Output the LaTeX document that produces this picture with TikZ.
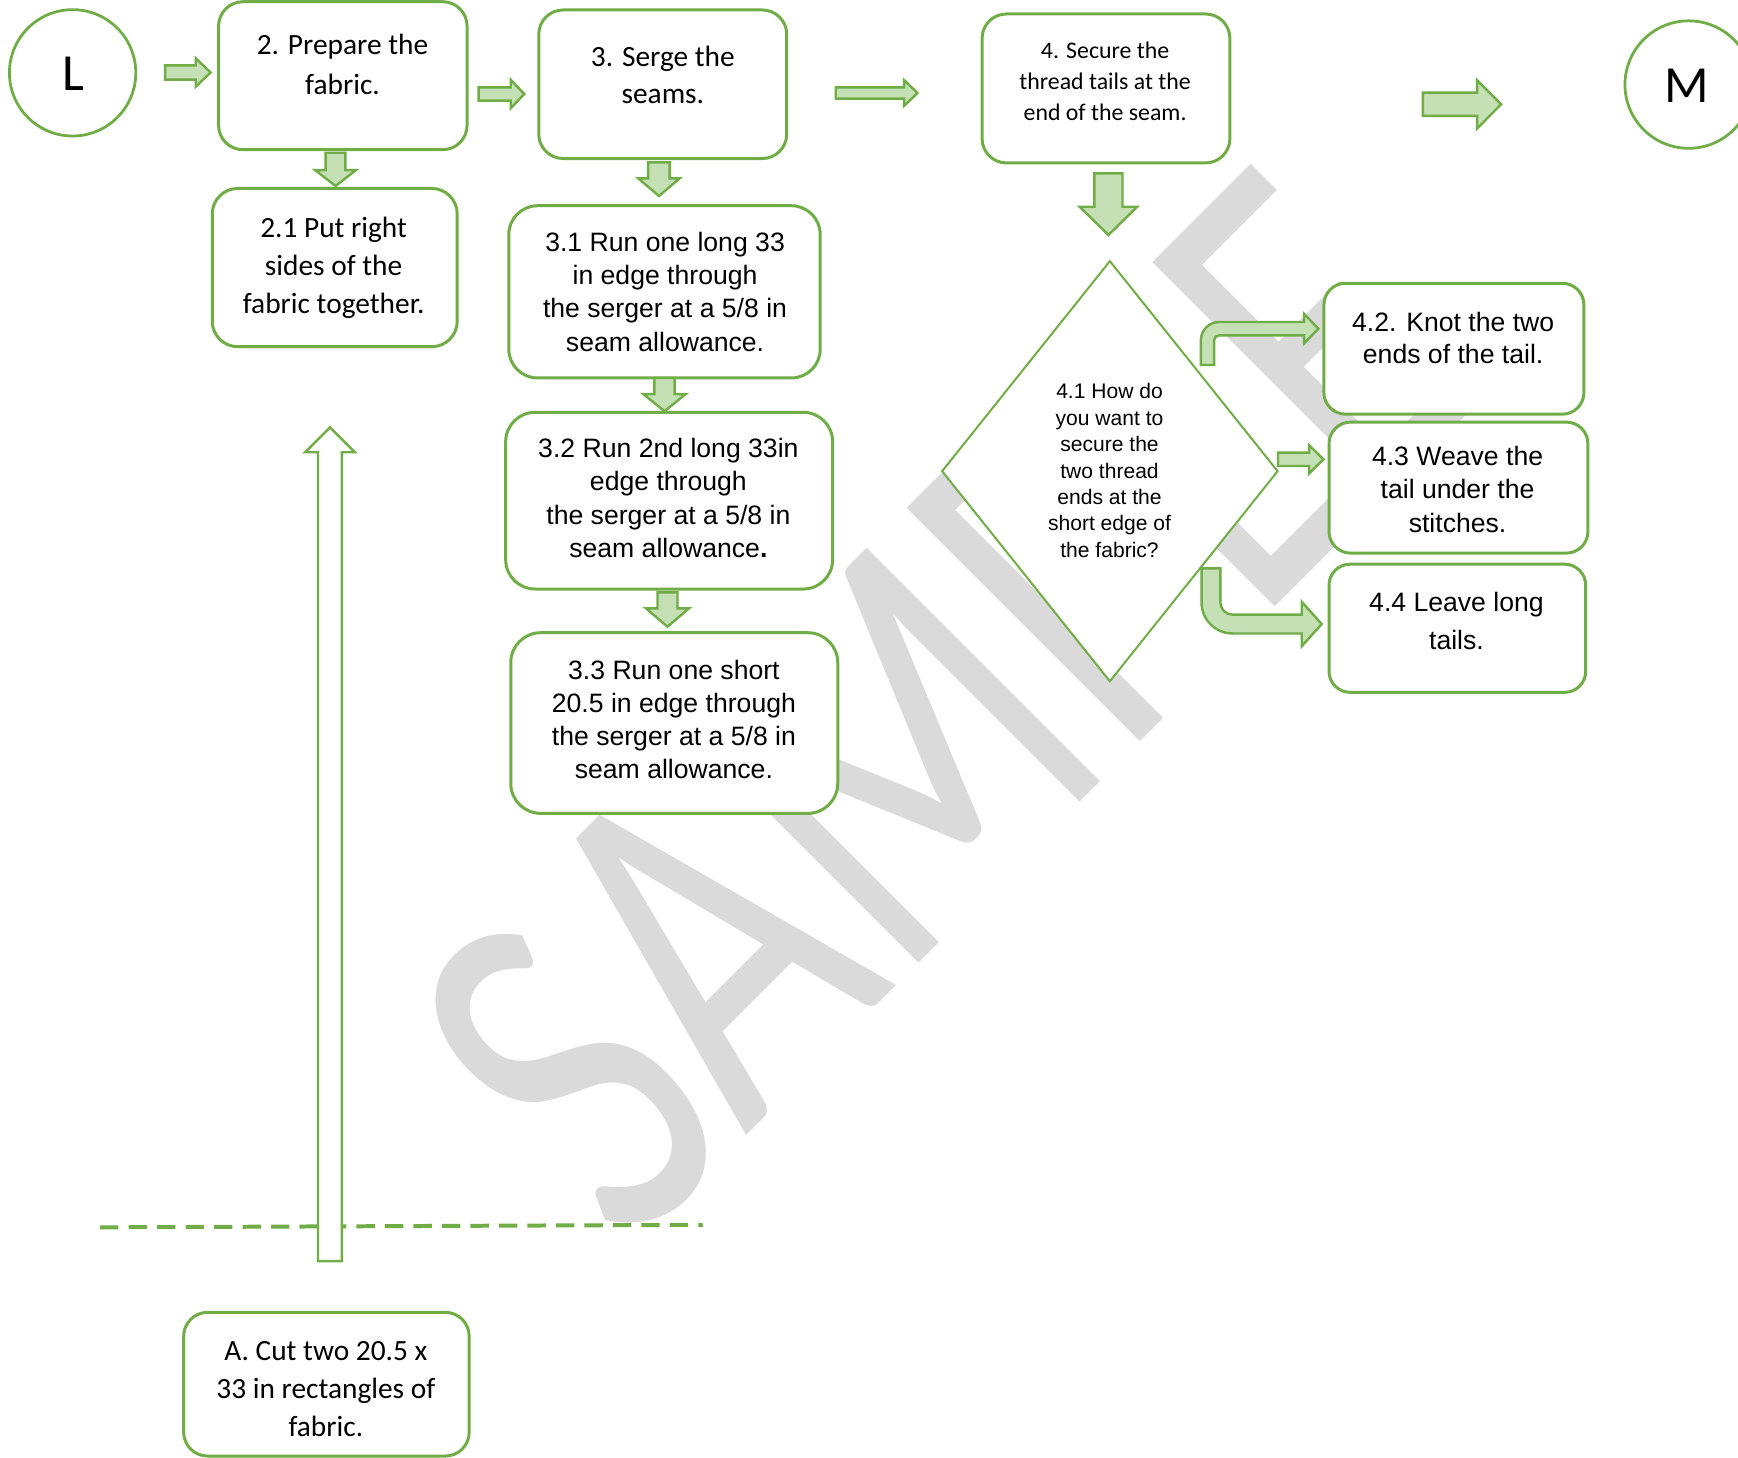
\documentclass[tikz,border=0pt]{standalone}
\usepackage{fontspec}
\setmainfont{Carlito}
\newfontfamily\arialf{Liberation Sans}
\usetikzlibrary{shapes.geometric}
\definecolor{gline}{HTML}{70AD47}
\definecolor{gfill}{HTML}{C5E0B4}
\definecolor{wmgray}{RGB}{218,218,218}
\tikzset{
  box/.style={draw=gline, line width=2.7pt, fill=white, inner sep=0pt, rectangle},
  circ/.style={draw=gline, line width=2.5pt, fill=white, circle, inner sep=0pt},
  barrow/.style={draw=gline, fill=gfill, line width=2.2pt, line join=miter},
  txt/.style={align=center, inner sep=0pt, text=black},
  calA/.style={txt, font=\fontsize{26.5}{35.5}\selectfont},
  calB/.style={txt, font=\fontsize{21.5}{28}\selectfont},
  ariA/.style={txt, font=\arialf\fontsize{24}{30}\selectfont},
  ariB/.style={txt, font=\arialf\fontsize{19}{23.8}\selectfont},
  sepline/.style={draw=gline, line width=3.6pt, dash pattern=on 16.6pt off 9.1pt},
}
\newcommand{\hblockarrow}[7][]{%
  \draw[barrow,#1] ({#2},{#5-#6}) -- ({#3},{#5-#6}) -- ({#3},{#5-#7}) -- ({#4},{#5})
    -- ({#3},{#5+#7}) -- ({#3},{#5+#6}) -- ({#2},{#5+#6}) -- cycle;}
\newcommand{\vblockarrow}[7][]{%
  \draw[barrow,#1] ({#2-#6},{#3}) -- ({#2-#6},{#4}) -- ({#2-#7},{#4}) -- ({#2},{#5})
    -- ({#2+#7},{#4}) -- ({#2+#6},{#4}) -- ({#2+#6},{#3}) -- cycle;}
\begin{document}
\begin{tikzpicture}[x=1pt,y=-1pt]
\useasboundingbox (0,0) rectangle (1568,1314.5);
% watermark
\begin{scope}[shift={(852,635)}, rotate=45, yscale=1.385]
\node[transform shape, font=\fontsize{335}{335}\selectfont, text=wmgray, inner sep=0pt] (wm) at (0,0) {SAMPLE};
\end{scope}
% separator
\draw[sepline] (90.3,1107.3) -- (634,1105);
% circles
\node[circ, minimum size=114pt] (cL) at (65.5,65.7) {};
\node[font=\fontsize{47}{47}\selectfont, inner sep=0pt] (tL) at (66,67) {L};
\node[circ, minimum size=115pt] (cM) at (1523.5,76.3) {};
\node[font=\fontsize{47}{47}\selectfont, inner sep=0pt] (tM) at (1522,77.5) {M};
% boxes
\node[box, minimum width=224.2pt, minimum height=133.5pt, rounded corners=22pt] (b2) at (309.3,68.3) {};
\node[calA] (t2) at (309,58) {2. Prepare the\\fabric.};
\node[box, minimum width=221pt, minimum height=142.8pt, rounded corners=23pt] (b21) at (302,241.4) {};
\node[calA, font=\fontsize{26.5}{34}\selectfont] (t21) at (301,241.5) {2.1 Put right\\sides of the\\fabric together.};
\node[box, minimum width=223.7pt, minimum height=134pt, rounded corners=22pt] (b3) at (597.9,76) {};
\node[calA, font=\fontsize{26.5}{34}\selectfont] (t3) at (598,67.5) {3. Serge the\\seams.};
\node[box, minimum width=281pt, minimum height=155.4pt, rounded corners=26pt] (b31) at (599.5,263.3) {};
\node[ariA] (t31) at (600,263.2) {3.1 Run one long 33\\in edge through\\the serger at a 5/8 in\\seam allowance.};
\node[box, minimum width=295pt, minimum height=159.4pt, rounded corners=26.5pt] (b32) at (603.7,451.7) {};
\node[ariA] (t32) at (603,449.2) {3.2 Run 2nd long 33in\\edge through\\the serger at a 5/8 in\\seam allowance\textbf{.}};
\node[box, minimum width=295pt, minimum height=163pt, rounded corners=27pt] (b33) at (608.3,652.3) {};
\node[ariA] (t33) at (608,649) {3.3 Run one short\\20.5 in edge through\\the serger at a 5/8 in\\seam allowance.};
\node[box, minimum width=223.6pt, minimum height=134.4pt, rounded corners=22pt] (b4) at (997.8,79.8) {};
\node[calB] (t4) at (997,73) {4. Secure the\\thread tails at the\\end of the seam.};
\node[diamond, draw=gline, line width=1.8pt, fill=white, inner sep=0pt, minimum width=303.4pt, minimum height=379.8pt] (d41) at (1001.3,425.1) {};
\node[ariB] (t41) at (1001,424.5) {4.1 How do\\you want to\\secure the\\two thread\\ends at the\\short edge of\\the fabric?};
\node[box, minimum width=234.6pt, minimum height=118.1pt, rounded corners=19.5pt] (b42) at (1311.7,314.6) {};
\node[ariA, font=\arialf\fontsize{24}{28.6}\selectfont] (t42) at (1311,305) {4.2. Knot the two\\ends of the tail.};
\node[box, minimum width=233.6pt, minimum height=118.2pt, rounded corners=19.5pt] (b43) at (1315.8,439.9) {};
\node[ariA] (t43) at (1315,441.5) {4.3 Weave the\\tail under the\\stitches.};
\node[box, minimum width=231.6pt, minimum height=115.6pt, rounded corners=19pt] (b44) at (1314.8,566.8) {};
\node[ariA, font=\arialf\fontsize{24}{34.6}\selectfont] (t44) at (1314,560) {4.4 Leave long\\tails.};
\node[box, minimum width=257.6pt, minimum height=129.6pt, rounded corners=21.5pt] (bA) at (294.5,1248.8) {};
\node[calA, font=\fontsize{26.5}{34.5}\selectfont] (tA) at (294,1253) {A. Cut two 20.5 x\\33 in rectangles of\\fabric.};
% block arrows
\hblockarrow{149}{176.6}{190}{65.4}{6.5}{12.8}
\hblockarrow{431.8}{460.8}{473}{84.8}{6}{12.8}
\hblockarrow{754}{815.6}{827.7}{83.9}{5.1}{11.7}
\hblockarrow{1283.6}{1332.6}{1354.3}{94.1}{10.5}{21.8}
\hblockarrow{1153}{1181}{1194}{414.4}{6}{12.8}
\vblockarrow{302.7}{137.8}{153.4}{167.8}{8.9}{18.5}
\vblockarrow{594.5}{146.5}{161}{176.8}{9.7}{18.5}
\vblockarrow{1000}{156.4}{186.5}{212}{12.7}{26}
\vblockarrow{599.5}{341}{355.6}{371}{9.2}{19}
\vblockarrow{602.2}{534.4}{548.8}{565.4}{9}{19.4}
\vblockarrow[fill=white]{297.7}{1137.7}{408}{385.5}{10.8}{22.5}
% bent arrows from the decision
\draw[barrow] (1083.4,329.3) -- (1083.4,307) .. controls (1083.4,297.9) and (1090.8,290.5) .. (1099.9,290.5)
  -- (1176.5,290.5) -- (1176.5,283.2) -- (1189.4,296.5) -- (1176.5,309.8) -- (1176.5,302.5)
  -- (1099.9,302.5) .. controls (1097.4,302.5) and (1095.4,304.5) .. (1095.4,307) -- (1095.4,329.3) -- cycle;
\draw[barrow] (1084,512.8) -- (1084,543.5) .. controls (1084,559) and (1096.5,571.5) .. (1112,571.5)
  -- (1174.4,571.5) -- (1174.4,583) -- (1192.4,563) -- (1174.4,543) -- (1174.4,554.5)
  -- (1112,554.5) .. controls (1105.9,554.5) and (1101,549.6) .. (1101,543.5) -- (1101,512.8) -- cycle;
\end{tikzpicture}
\end{document}
